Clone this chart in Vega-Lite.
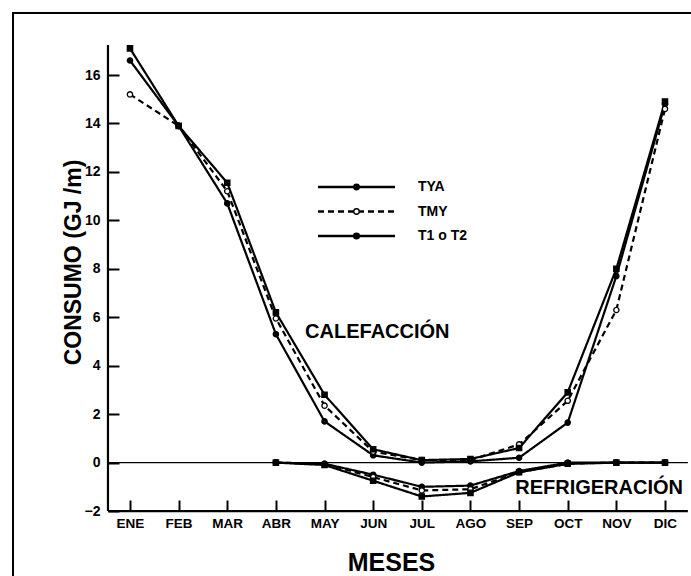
{
  "$schema": "https://vega.github.io/schema/vega-lite/v6.json",
  "width": 682,
  "height": 577,
  "autosize": {"type": "none"},
  "padding": {"left": 13, "top": 13, "right": 0, "bottom": 0},
  "background": "white",
  "config": {
    "view": {"stroke": "black", "strokeWidth": 2},
    "font": "Liberation Sans"
  },
  "datasets": {
    "consumo": [
      {"mes": 1, "serie": "TYA", "tipo": "calefaccion", "valor": 16.6},
      {"mes": 2, "serie": "TYA", "tipo": "calefaccion", "valor": 13.9},
      {"mes": 3, "serie": "TYA", "tipo": "calefaccion", "valor": 10.7},
      {"mes": 4, "serie": "TYA", "tipo": "calefaccion", "valor": 5.3},
      {"mes": 5, "serie": "TYA", "tipo": "calefaccion", "valor": 1.7},
      {"mes": 6, "serie": "TYA", "tipo": "calefaccion", "valor": 0.3},
      {"mes": 7, "serie": "TYA", "tipo": "calefaccion", "valor": 0.0},
      {"mes": 8, "serie": "TYA", "tipo": "calefaccion", "valor": 0.05},
      {"mes": 9, "serie": "TYA", "tipo": "calefaccion", "valor": 0.2},
      {"mes": 10, "serie": "TYA", "tipo": "calefaccion", "valor": 1.65},
      {"mes": 11, "serie": "TYA", "tipo": "calefaccion", "valor": 7.7},
      {"mes": 12, "serie": "TYA", "tipo": "calefaccion", "valor": 14.8},
      {"mes": 1, "serie": "TMY", "tipo": "calefaccion", "valor": 15.2},
      {"mes": 2, "serie": "TMY", "tipo": "calefaccion", "valor": 13.9},
      {"mes": 3, "serie": "TMY", "tipo": "calefaccion", "valor": 11.2},
      {"mes": 4, "serie": "TMY", "tipo": "calefaccion", "valor": 5.95},
      {"mes": 5, "serie": "TMY", "tipo": "calefaccion", "valor": 2.35},
      {"mes": 6, "serie": "TMY", "tipo": "calefaccion", "valor": 0.45},
      {"mes": 7, "serie": "TMY", "tipo": "calefaccion", "valor": 0.1},
      {"mes": 8, "serie": "TMY", "tipo": "calefaccion", "valor": 0.1},
      {"mes": 9, "serie": "TMY", "tipo": "calefaccion", "valor": 0.75},
      {"mes": 10, "serie": "TMY", "tipo": "calefaccion", "valor": 2.55},
      {"mes": 11, "serie": "TMY", "tipo": "calefaccion", "valor": 6.3},
      {"mes": 12, "serie": "TMY", "tipo": "calefaccion", "valor": 14.6},
      {"mes": 1, "serie": "T1 o T2", "tipo": "calefaccion", "valor": 17.1},
      {"mes": 2, "serie": "T1 o T2", "tipo": "calefaccion", "valor": 13.9},
      {"mes": 3, "serie": "T1 o T2", "tipo": "calefaccion", "valor": 11.55},
      {"mes": 4, "serie": "T1 o T2", "tipo": "calefaccion", "valor": 6.2},
      {"mes": 5, "serie": "T1 o T2", "tipo": "calefaccion", "valor": 2.8},
      {"mes": 6, "serie": "T1 o T2", "tipo": "calefaccion", "valor": 0.55},
      {"mes": 7, "serie": "T1 o T2", "tipo": "calefaccion", "valor": 0.1},
      {"mes": 8, "serie": "T1 o T2", "tipo": "calefaccion", "valor": 0.15},
      {"mes": 9, "serie": "T1 o T2", "tipo": "calefaccion", "valor": 0.6},
      {"mes": 10, "serie": "T1 o T2", "tipo": "calefaccion", "valor": 2.9},
      {"mes": 11, "serie": "T1 o T2", "tipo": "calefaccion", "valor": 8.0},
      {"mes": 12, "serie": "T1 o T2", "tipo": "calefaccion", "valor": 14.9},
      {"mes": 4, "serie": "TYA", "tipo": "refrigeracion", "valor": 0},
      {"mes": 5, "serie": "TYA", "tipo": "refrigeracion", "valor": -0.05},
      {"mes": 6, "serie": "TYA", "tipo": "refrigeracion", "valor": -0.5},
      {"mes": 7, "serie": "TYA", "tipo": "refrigeracion", "valor": -1.0},
      {"mes": 8, "serie": "TYA", "tipo": "refrigeracion", "valor": -0.95},
      {"mes": 9, "serie": "TYA", "tipo": "refrigeracion", "valor": -0.35},
      {"mes": 10, "serie": "TYA", "tipo": "refrigeracion", "valor": 0},
      {"mes": 11, "serie": "TYA", "tipo": "refrigeracion", "valor": 0},
      {"mes": 12, "serie": "TYA", "tipo": "refrigeracion", "valor": 0},
      {"mes": 4, "serie": "TMY", "tipo": "refrigeracion", "valor": 0},
      {"mes": 5, "serie": "TMY", "tipo": "refrigeracion", "valor": -0.05},
      {"mes": 6, "serie": "TMY", "tipo": "refrigeracion", "valor": -0.6},
      {"mes": 7, "serie": "TMY", "tipo": "refrigeracion", "valor": -1.15},
      {"mes": 8, "serie": "TMY", "tipo": "refrigeracion", "valor": -1.1},
      {"mes": 9, "serie": "TMY", "tipo": "refrigeracion", "valor": -0.4},
      {"mes": 10, "serie": "TMY", "tipo": "refrigeracion", "valor": -0.05},
      {"mes": 11, "serie": "TMY", "tipo": "refrigeracion", "valor": 0},
      {"mes": 12, "serie": "TMY", "tipo": "refrigeracion", "valor": 0},
      {"mes": 4, "serie": "T1 o T2", "tipo": "refrigeracion", "valor": 0},
      {"mes": 5, "serie": "T1 o T2", "tipo": "refrigeracion", "valor": -0.1},
      {"mes": 6, "serie": "T1 o T2", "tipo": "refrigeracion", "valor": -0.75},
      {"mes": 7, "serie": "T1 o T2", "tipo": "refrigeracion", "valor": -1.4},
      {"mes": 8, "serie": "T1 o T2", "tipo": "refrigeracion", "valor": -1.25},
      {"mes": 9, "serie": "T1 o T2", "tipo": "refrigeracion", "valor": -0.4},
      {"mes": 10, "serie": "T1 o T2", "tipo": "refrigeracion", "valor": -0.05},
      {"mes": 11, "serie": "T1 o T2", "tipo": "refrigeracion", "valor": 0},
      {"mes": 12, "serie": "T1 o T2", "tipo": "refrigeracion", "valor": 0}
    ]
  },
  "layer": [
    {
      "data": {"values": [{}]},
      "mark": {"type": "rule", "color": "black", "strokeWidth": 2.2},
      "encoding": {
        "x": {
          "datum": 0.5477, "type": "quantitative",
          "scale": {"domain": [-1.405, 12.617], "nice": false, "zero": false},
          "axis": {
            "orient": "bottom", "offset": -90,
            "values": [1, 2, 3, 4, 5, 6, 7, 8, 9, 10, 11, 12],
            "labelExpr": "['ENE','FEB','MAR','ABR','MAY','JUN','JUL','AGO','SEP','OCT','NOV','DIC'][datum.value - 1]",
            "domain": false, "grid": false, "ticks": true,
            "tickSize": 11, "tickWidth": 2, "tickColor": "black",
            "labelFont": "Liberation Sans", "labelFontSize": 13.5, "labelFontWeight": "bold", "labelColor": "black",
            "labelPadding": 5,
            "title": "MESES", "titleFont": "Liberation Sans", "titleFontSize": 25, "titleFontWeight": "bold", "titleColor": "black",
            "titleX": 378, "titleY": 62, "titleAlign": "center", "titleBaseline": "middle", "titleAnchor": null
          }
        },
        "y": {
          "datum": -2, "type": "quantitative",
          "scale": {"domain": [-5.26, 18.56], "nice": false, "zero": false},
          "axis": {
            "orient": "left", "offset": -106,
            "values": [-2, 0, 2, 4, 6, 8, 10, 12, 14, 16],
            "domain": false, "grid": false, "ticks": true,
            "tickSize": 11, "tickWidth": 2, "tickColor": "black",
            "labelFont": "Liberation Sans", "labelFontSize": 14, "labelFontWeight": "bold", "labelColor": "black",
            "labelPadding": 8,
            "title": "CONSUMO  (GJ /m)", "titleFont": "Liberation Sans", "titleFontSize": 23, "titleFontWeight": "bold", "titleColor": "black",
            "titleX": -46, "titleY": 249, "titleAngle": -90, "titleAlign": "center", "titleBaseline": "middle", "titleAnchor": null
          }
        },
        "y2": {"datum": 17.24}
      }
    },
    {
      "data": {"values": [{}]},
      "mark": {"type": "rule", "color": "black", "strokeWidth": 2.2},
      "encoding": {
        "x": {"datum": 0.5477, "type": "quantitative"},
        "x2": {"datum": 12.47},
        "y": {"datum": -2, "type": "quantitative"}
      }
    },
    {
      "data": {"values": [{}]},
      "mark": {"type": "rule", "color": "black", "strokeWidth": 1.2},
      "encoding": {
        "x": {"datum": 0.5477, "type": "quantitative"},
        "x2": {"datum": 12.47},
        "y": {"datum": 0, "type": "quantitative"}
      }
    },
    {
      "data": {"name": "consumo"},
      "mark": {"type": "line", "color": "black", "strokeWidth": 2.2},
      "encoding": {
        "x": {"field": "mes", "type": "quantitative"},
        "y": {"field": "valor", "type": "quantitative"},
        "detail": {"field": "tipo"},
        "strokeDash": {
          "field": "serie", "type": "nominal",
          "scale": {"domain": ["TYA", "TMY", "T1 o T2"], "range": [[1, 0], [6, 4], [1, 0]]},
          "legend": {
            "orient": "none", "legendX": 303.5, "legendY": 166,
            "title": null,
            "symbolType": "stroke",
            "symbolSize": 5929, "symbolStrokeWidth": 2.3, "symbolStrokeColor": "black",
            "labelFont": "Liberation Sans", "labelFontSize": 14, "labelFontWeight": "bold", "labelColor": "black",
            "labelOffset": 21.5, "rowPadding": 8.5, "clipHeight": 16
          }
        }
      }
    },
    {
      "data": {"name": "consumo"},
      "mark": {"type": "point", "filled": true, "stroke": "black", "strokeWidth": 1.3, "opacity": 1, "size": 28},
      "encoding": {
        "x": {"field": "mes", "type": "quantitative"},
        "y": {"field": "valor", "type": "quantitative"},
        "shape": {
          "field": "serie", "type": "nominal",
          "sort": ["TYA", "TMY", "T1 o T2"],
          "scale": {"range": ["circle", "circle", "square"]},
          "legend": {
            "orient": "none", "legendX": 336.5, "legendY": 166,
            "title": null,
            "symbolSize": 30, "symbolStrokeWidth": 1.3, "symbolStrokeColor": "black",
            "labelFont": "Liberation Sans", "labelFontSize": 14, "labelFontWeight": "bold", "labelColor": "black",
            "labelExpr": "''",
            "labelOffset": 20, "rowPadding": 8.5, "clipHeight": 16
          }
        },
        "fill": {
          "field": "serie", "type": "nominal",
          "sort": ["TYA", "TMY", "T1 o T2"],
          "scale": {"range": ["black", "white", "black"]},
          "legend": {
            "orient": "none", "legendX": 336.5, "legendY": 166,
            "title": null,
            "symbolSize": 30, "symbolStrokeWidth": 1.3, "symbolStrokeColor": "black",
            "labelFont": "Liberation Sans", "labelFontSize": 14, "labelFontWeight": "bold", "labelColor": "black",
            "labelExpr": "''",
            "labelOffset": 20, "rowPadding": 8.5, "clipHeight": 16
          }
        }
      }
    },
    {
      "data": {"values": [{"texto": "CALEFACCIÓN"}]},
      "mark": {"type": "text", "align": "left", "baseline": "middle", "font": "Liberation Sans", "fontSize": 20, "fontWeight": "bold", "color": "black"},
      "encoding": {
        "x": {"datum": 4.6, "type": "quantitative"},
        "y": {"datum": 5.39, "type": "quantitative"},
        "text": {"field": "texto"}
      }
    },
    {
      "data": {"values": [{"texto": "REFRIGERACIÓN"}]},
      "mark": {"type": "text", "align": "left", "baseline": "middle", "font": "Liberation Sans", "fontSize": 20, "fontWeight": "bold", "color": "black"},
      "encoding": {
        "x": {"datum": 8.92, "type": "quantitative"},
        "y": {"datum": -1.05, "type": "quantitative"},
        "text": {"field": "texto"}
      }
    }
  ]
}
